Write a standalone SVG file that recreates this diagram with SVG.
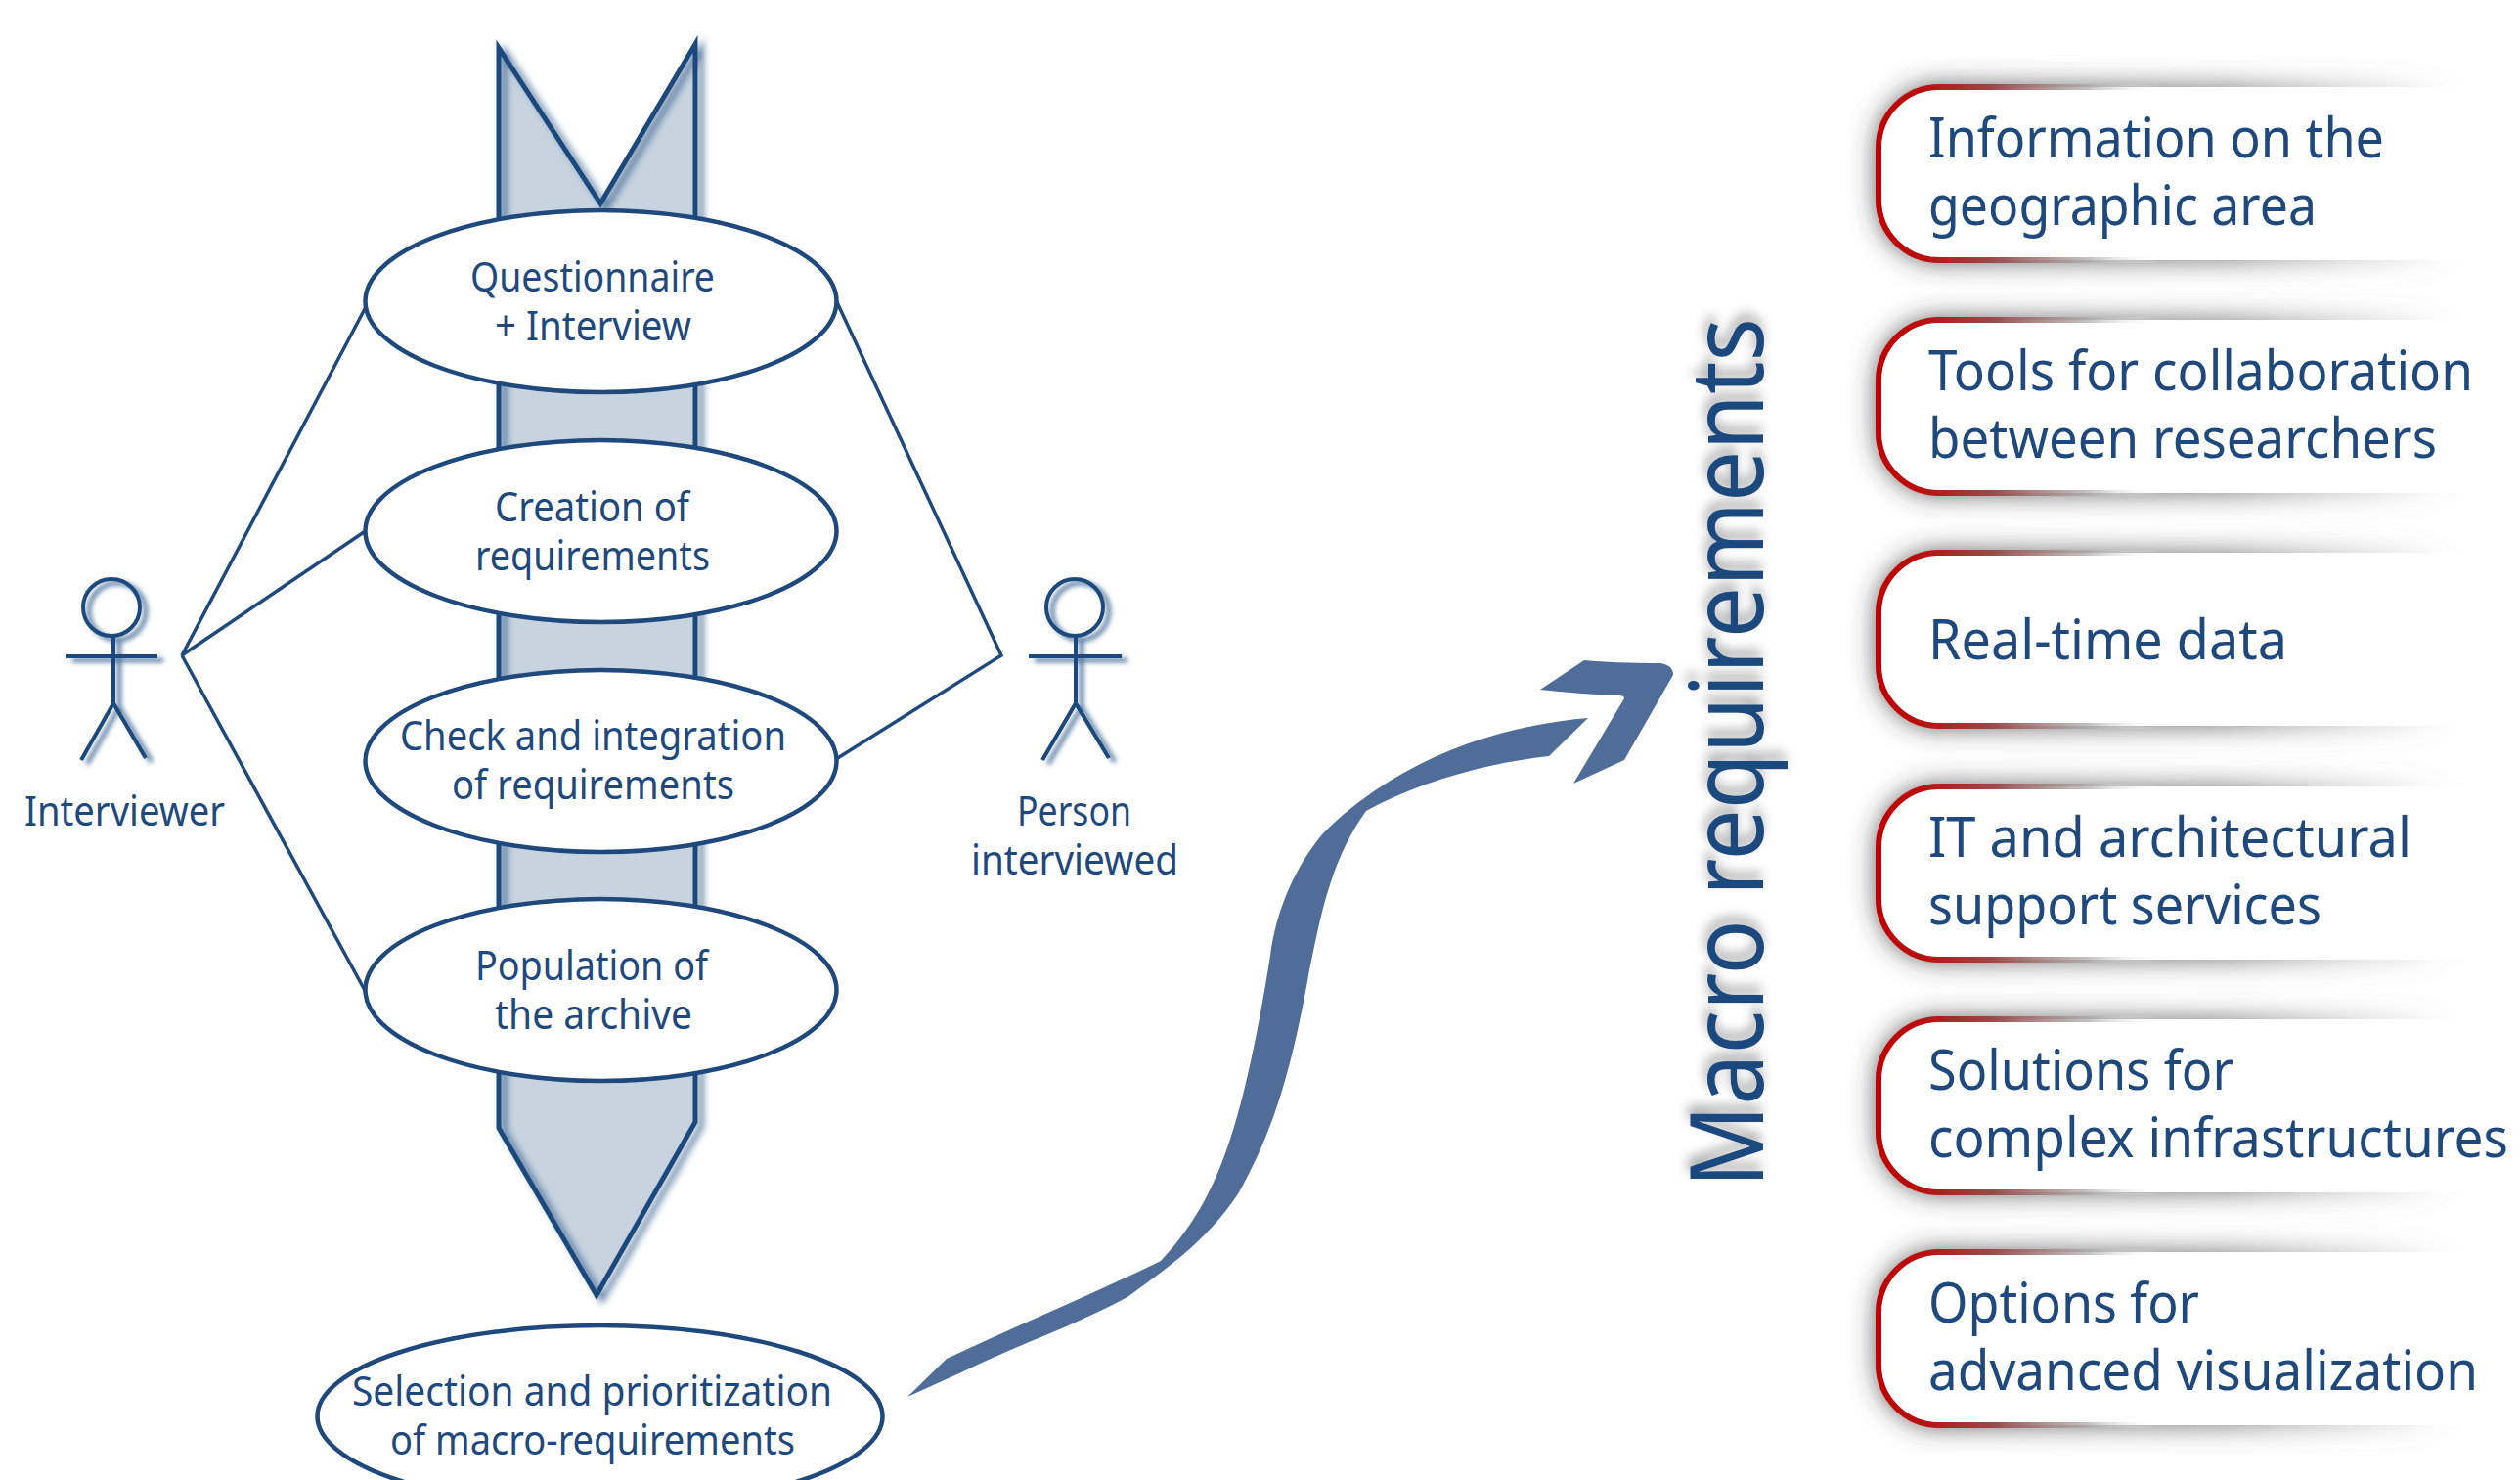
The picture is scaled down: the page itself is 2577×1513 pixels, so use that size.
<svg xmlns="http://www.w3.org/2000/svg" width="2577" height="1513" viewBox="0 0 2577 1513">
<style>
text{font-family:"Noto Sans","Open Sans","DejaVu Sans",sans-serif;fill:#1f497d}
.t{font-size:41px}
.b{font-size:56px}
.e{fill:#fff;stroke:#1f497d;stroke-width:4.5}
.l{fill:none;stroke:#1f497d;stroke-width:3.5}
.a{fill:none;stroke:#1f497d;stroke-width:4;filter:url(#ds)}
.box{fill:#fff;stroke:url(#red);stroke-width:6}
.sh{fill:url(#shg);filter:url(#bl)}
</style>
<defs>
<filter id="ds" x="-30%" y="-30%" width="160%" height="160%"><feDropShadow dx="6" dy="4" stdDeviation="2.5" flood-color="#1f497d" flood-opacity=".8"/></filter>
<filter id="ds2" x="-10%" y="-10%" width="120%" height="120%"><feDropShadow dx="6" dy="4" stdDeviation="3.5" flood-color="#1f497d" flood-opacity=".75"/></filter>
<filter id="bl" x="-10%" y="-40%" width="120%" height="180%"><feGaussianBlur stdDeviation="14"/></filter>
<filter id="ts" x="-10%" y="-10%" width="125%" height="120%"><feDropShadow dx="8" dy="-2" stdDeviation="6" flood-color="#000" flood-opacity=".35"/></filter>
<linearGradient id="red" x1="0" y1="0" x2="1" y2="0"><stop offset="0" stop-color="#c00000"/><stop offset=".05" stop-color="#b81010"/><stop offset=".13" stop-color="#9a4a4a"/><stop offset=".24" stop-color="#aaa" stop-opacity=".7"/><stop offset=".32" stop-color="#fff" stop-opacity="0"/></linearGradient>
<linearGradient id="shg" x1="0" y1="0" x2="1" y2="0"><stop offset="0" stop-color="#333" stop-opacity=".95"/><stop offset=".6" stop-color="#555" stop-opacity=".8"/><stop offset="1" stop-color="#888" stop-opacity="0"/></linearGradient>
<rect id="r" x="0" y="0" width="900" height="177" rx="62" ry="62"/>
<rect id="s" x="0" y="0" width="600" height="177" rx="62" ry="62"/>
</defs>
<rect width="2577" height="1513" fill="#fff"/>

<g id="banner">
<path d="M510 1153V49L614 208 711 45V1147L610 1324Z" fill="#c8d3e0"/>
<path d="M510 1153V49L614 208 711 45V1147L610 1324Z" fill="none" stroke="#1f497d" stroke-width="5" filter="url(#ds2)"/>
</g>

<g id="connectors">
<path class="l" d="M375 312L186 670L375 542M186 670L375 1016"/>
<path class="l" d="M855 307L1024 670L855 776"/>
<path id="flow" fill="#506d99" d="M928 1428L968 1389C1040 1355 1120 1322 1187 1289C1240 1232 1268 1170 1299 977C1305 930 1325 885 1353 852C1410 795 1500 745 1624 734L1584 773C1520 780 1450 800 1397 829C1360 880 1350 940 1339 992C1320 1100 1300 1160 1267 1219C1235 1268 1195 1295 1153 1326C1100 1355 1040 1375 983 1403Z"/>
<path id="flow-head" fill="#506d99" d="M1575 705L1620 675Q1650 678 1698 678Q1711 680 1711 690L1661 777L1609 801L1661 714Q1661 711 1655 711Q1620 710 1575 705Z"/>
</g>

<g id="actor-interviewer">
<circle class="a" cx="114" cy="621" r="29"/>
<path class="a" d="M116 650V719M68 671H161M83 777L116 719L149 775"/>
<text class="t" x="25" y="844" textLength="205" lengthAdjust="spacingAndGlyphs">Interviewer</text>
</g>
<g id="actor-person">
<circle class="a" cx="1099" cy="621" r="29"/>
<path class="a" d="M1100 650V719M1052 671H1147M1066 777L1100 719L1134 775"/>
<text class="t" x="1040" y="844" textLength="117" lengthAdjust="spacingAndGlyphs">Person</text>
<text class="t" x="993" y="894" textLength="212" lengthAdjust="spacingAndGlyphs">interviewed</text>
</g>

<g id="n1"><ellipse class="e" cx="614.5" cy="308" rx="241" ry="93"/>
<text class="t" x="481" y="298" textLength="250" lengthAdjust="spacingAndGlyphs">Questionnaire</text>
<text class="t" x="506" y="348" textLength="201" lengthAdjust="spacingAndGlyphs">+ Interview</text></g>
<g id="n2"><ellipse class="e" cx="614.5" cy="543" rx="241" ry="93"/>
<text class="t" x="506" y="533" textLength="199" lengthAdjust="spacingAndGlyphs">Creation of</text>
<text class="t" x="486" y="583" textLength="240" lengthAdjust="spacingAndGlyphs">requirements</text></g>
<g id="n3"><ellipse class="e" cx="614.5" cy="778" rx="241" ry="93"/>
<text class="t" x="409" y="767" textLength="395" lengthAdjust="spacingAndGlyphs">Check and integration</text>
<text class="t" x="462" y="817" textLength="289" lengthAdjust="spacingAndGlyphs">of requirements</text></g>
<g id="n4"><ellipse class="e" cx="614.5" cy="1012" rx="241" ry="93"/>
<text class="t" x="486" y="1002" textLength="238" lengthAdjust="spacingAndGlyphs">Population of</text>
<text class="t" x="506" y="1052" textLength="202" lengthAdjust="spacingAndGlyphs">the archive</text></g>
<g id="n5"><ellipse class="e" cx="613.5" cy="1448" rx="289" ry="93"/>
<text class="t" x="360" y="1437" textLength="491" lengthAdjust="spacingAndGlyphs">Selection and prioritization</text>
<text class="t" x="399" y="1487" textLength="414" lengthAdjust="spacingAndGlyphs">of macro-requirements</text></g>

<g id="title"><text transform="translate(1803 1214) rotate(-90)" textLength="889" lengthAdjust="spacingAndGlyphs" filter="url(#ts)" style="font-size:104px">Macro requirements</text></g>

<g id="req1" transform="translate(1921 89)"><use href="#s" class="sh"/><use href="#r" class="box"/>
<text class="b" x="51" y="72" textLength="466" lengthAdjust="spacingAndGlyphs">Information on the</text>
<text class="b" x="51" y="141" textLength="397" lengthAdjust="spacingAndGlyphs">geographic area</text></g>
<g id="req2" transform="translate(1921 327)"><use href="#s" class="sh"/><use href="#r" class="box"/>
<text class="b" x="51" y="72" textLength="557" lengthAdjust="spacingAndGlyphs">Tools for collaboration</text>
<text class="b" x="51" y="141" textLength="520" lengthAdjust="spacingAndGlyphs">between researchers</text></g>
<g id="req3" transform="translate(1921 565)"><use href="#s" class="sh"/><use href="#r" class="box"/>
<text class="b" x="51" y="109" textLength="367" lengthAdjust="spacingAndGlyphs">Real-time data</text></g>
<g id="req4" transform="translate(1921 804)"><use href="#s" class="sh"/><use href="#r" class="box"/>
<text class="b" x="51" y="72" textLength="494" lengthAdjust="spacingAndGlyphs">IT and architectural</text>
<text class="b" x="51" y="141" textLength="402" lengthAdjust="spacingAndGlyphs">support services</text></g>
<g id="req5" transform="translate(1921 1042)"><use href="#s" class="sh"/><use href="#r" class="box"/>
<text class="b" x="51" y="72" textLength="312" lengthAdjust="spacingAndGlyphs">Solutions for</text>
<text class="b" x="51" y="141" textLength="593" lengthAdjust="spacingAndGlyphs">complex infrastructures</text></g>
<g id="req6" transform="translate(1921 1280)"><use href="#s" class="sh"/><use href="#r" class="box"/>
<text class="b" x="51" y="72" textLength="277" lengthAdjust="spacingAndGlyphs">Options for</text>
<text class="b" x="51" y="141" textLength="562" lengthAdjust="spacingAndGlyphs">advanced visualization</text></g>
</svg>
